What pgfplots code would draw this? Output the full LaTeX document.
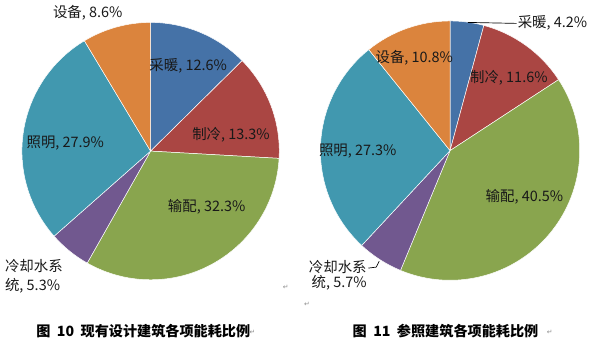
\documentclass[border=0pt]{standalone}
\usepackage{fontspec}
\setmainfont{Noto Sans CJK SC}
\newfontfamily\symfont{DejaVu Sans}
\usepackage{pgfplots}
\usepackage{pgfplotstable}
\pgfplotsset{compat=1.18}

\definecolor{cBlue}{HTML}{4572A7}
\definecolor{cRed}{HTML}{AA4643}
\definecolor{cGreen}{HTML}{89A54E}
\definecolor{cPurple}{HTML}{71588F}
\definecolor{cTeal}{HTML}{4198AF}
\definecolor{cOrange}{HTML}{DB843D}

% order: heating, cooling, distribution, cooling water, lighting, equipment
\pgfplotstableread{
value
12.6
13.3
32.3
5.3
27.9
8.6
}\tableA
\pgfplotstableread{
value
4.2
11.6
40.5
5.7
27.3
10.8
}\tableB

\newcommand\computeangles[2]{%
  \gdef\tot{0}%
  \foreach \i in {0,...,5}{%
    \pgfplotstablegetelem{\i}{value}\of#1%
    \pgfmathsetmacro\t{\tot+\pgfplotsretval}%
    \xdef\tot{\t}%
  }%
  \gdef\acc{0}%
  \foreach \i in {0,...,5}{%
    \pgfplotstablegetelem{\i}{value}\of#1%
    \pgfmathsetmacro\st{90-(\acc/\tot)*360}%
    \pgfmathsetmacro\newacc{\acc+\pgfplotsretval}%
    \pgfmathsetmacro\en{90-(\newacc/\tot)*360}%
    \expandafter\xdef\csname #2s\i\endcsname{\st}%
    \expandafter\xdef\csname #2e\i\endcsname{\en}%
    \xdef\acc{\newacc}%
  }%
}
\computeangles{\tableA}{A}
\computeangles{\tableB}{B}

\newcommand\slice[6]{% prefix, index, color, cx, cy, r
  \fill[#3, draw=white, line width=0.5pt, line join=round] (axis cs:#4,#5) -- ++(\csname #1s#2\endcsname:#6pt)
    arc[start angle=\csname #1s#2\endcsname, end angle=\csname #1e#2\endcsname, radius=#6pt] -- cycle;%
}

\begin{document}
\begin{tikzpicture}
\begin{axis}[x=1pt, y=1pt, xmin=0, xmax=598, ymin=0, ymax=354,
  enlargelimits=false, hide axis, clip=false]
\path (axis cs:0,0) rectangle (axis cs:598,354);
% left pie
\slice{A}{0}{cBlue}{154.5}{199}{132}
\slice{A}{1}{cRed}{154.5}{199}{132}
\slice{A}{2}{cGreen}{154.5}{199}{132}
\slice{A}{3}{cPurple}{154.5}{199}{132}
\slice{A}{4}{cTeal}{154.5}{199}{132}
\slice{A}{5}{cOrange}{154.5}{199}{132}
% right pie
\slice{B}{0}{cBlue}{461.7}{199.5}{133}
\slice{B}{1}{cRed}{461.7}{199.5}{133}
\slice{B}{2}{cGreen}{461.7}{199.5}{133}
\slice{B}{3}{cPurple}{461.7}{199.5}{133}
\slice{B}{4}{cTeal}{461.7}{199.5}{133}
\slice{B}{5}{cOrange}{461.7}{199.5}{133}

\tikzset{lab/.style={font=\fontsize{14.8}{17}\selectfont, text=black!90, inner sep=0pt}}
% left labels
\node[lab] at (axis cs:193,286) {采暖, 12.6\%};
\node[lab] at (axis cs:237,216) {制冷, 13.3\%};
\node[lab] at (axis cs:212,142) {输配, 32.3\%};
\node[lab, anchor=west] at (axis cs:5,81) {冷却水系};
\node[lab, anchor=west] at (axis cs:5,61) {统, 5.3\%};
\node[lab] at (axis cs:67,207) {照明, 27.9\%};
\node[lab] at (axis cs:90,341) {设备, 8.6\%};
% right labels
\draw[black, line width=0.7pt] (axis cs:480,331) -- (axis cs:530,330);
\node[lab, anchor=west] at (axis cs:531,331) {采暖, 4.2\%};
\node[lab] at (axis cs:522,274) {制冷, 11.6\%};
\node[lab] at (axis cs:425,295) {设备, 10.8\%};
\node[lab] at (axis cs:367,199) {照明, 27.3\%};
\node[lab] at (axis cs:538,152) {输配, 40.5\%};
\node[lab] at (axis cs:346.5,80) {冷却水系};
\node[lab] at (axis cs:348,64) {统, 5.7\%};
\draw[black, line width=0.7pt] (axis cs:378,79) -- (axis cs:386,80) -- (axis cs:389,86);
% captions
\node[font=\fontsize{14.5}{16}\selectfont\bfseries, inner sep=0pt] at (axis cs:147,14) {图\ \ 10\ \ 现有设计建筑各项能耗比例};
\node[font=\fontsize{14.5}{16}\selectfont\bfseries, inner sep=0pt] at (axis cs:457,14) {图\ \ 11\ \ 参照建筑各项能耗比例};
% paragraph marks
\tikzset{pm/.style={font=\symfont\fontsize{7}{8}\selectfont, text=black!45, inner sep=0pt}}
\node[pm] at (axis cs:259,13) {↵};
\node[pm] at (axis cs:564,13) {↵};
\node[pm] at (axis cs:293,59) {↵};
\node[pm] at (axis cs:315,42) {↵};
\end{axis}
\end{tikzpicture}
\end{document}
